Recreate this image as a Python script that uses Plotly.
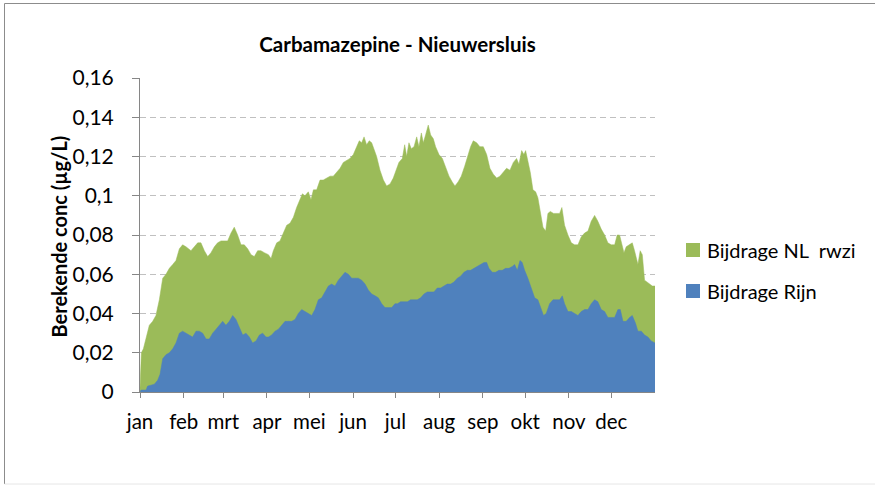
import pandas as pd
import plotly.graph_objects as go

# ---------------- data ----------------
# day-of-year (0 = 1 Jan) and top of the stacked area (Rijn + NL rwzi), µg/L
totaal_dag = [
    0, 1, 2.4, 4.3, 6.6, 9.0, 11.3, 13.7, 16.1, 18.4,
    20.8, 23.2, 25.5, 27.9, 30.2, 32.6, 36.1, 38.5, 40.9, 43.2,
    45.6, 48.0, 50.3, 52.7, 55.0, 57.4, 59.8, 62.1, 64.5, 66.8,
    69.2, 71.6, 73.9, 76.3, 78.7, 81.0, 83.4, 85.7, 88.1, 91.0,
    92.9, 94.5, 96.9, 99.2, 101.6, 104.0, 106.3, 108.7, 111.0, 113.4,
    115.1, 116.9, 119.3, 121.2, 122.9, 125.2, 127.6, 129.9, 132.3, 134.7,
    137.0, 139.4, 141.8, 144.1, 146.5, 148.8, 151.2, 153.6, 155.4, 157.1,
    158.8, 160.6, 162.5, 164.2, 166.1, 167.7, 170.1, 172.5, 174.8, 177.2,
    179.5, 181.9, 183.5, 185.9, 187.6, 189.0, 190.6, 192.3, 194.2, 196.1,
    197.7, 199.4, 200.8, 202.4, 204.3, 206.0, 207.9, 209.5, 211.9, 214.3,
    216.6, 219.0, 221.3, 223.2, 225.4, 227.7, 230.1, 232.4, 234.3, 236.2,
    238.6, 240.9, 243.3, 245.7, 248.0, 250.4, 252.8, 255.1, 257.5, 259.8,
    262.2, 264.6, 266.9, 268.6, 270.5, 272.1, 273.3, 274.9, 276.6, 278.5,
    280.4, 282.0, 283.7, 285.6, 287.5, 289.1, 290.8, 293.1, 295.5, 297.4,
    299.0, 300.9, 303.3, 305.7, 308.0, 310.4, 312.7, 315.1, 317.5, 319.8,
    322.2, 324.5, 326.9, 329.3, 331.6, 334.0, 336.4, 338.2, 339.9, 341.6,
    343.0, 344.6, 347.0, 348.9, 350.5, 352.9, 354.5, 356.0, 357.6, 359.3,
    361.2, 363.1, 365,
]
totaal = [
    0.002, 0.020, 0.022, 0.028, 0.034, 0.036, 0.039, 0.047, 0.058, 0.060,
    0.063, 0.065, 0.067, 0.073, 0.075, 0.074, 0.072, 0.074, 0.076, 0.076,
    0.072, 0.069, 0.071, 0.074, 0.076, 0.077, 0.077, 0.077, 0.081, 0.084,
    0.080, 0.075, 0.075, 0.073, 0.070, 0.069, 0.072, 0.072, 0.071, 0.070,
    0.068, 0.072, 0.076, 0.077, 0.081, 0.085, 0.086, 0.089, 0.094, 0.098,
    0.101, 0.100, 0.102, 0.098, 0.103, 0.103, 0.108, 0.108, 0.109, 0.110,
    0.110, 0.112, 0.114, 0.117, 0.118, 0.119, 0.121, 0.125, 0.128, 0.127,
    0.130, 0.126, 0.128, 0.127, 0.123, 0.120, 0.113, 0.108, 0.105, 0.106,
    0.109, 0.114, 0.117, 0.119, 0.126, 0.120, 0.127, 0.124, 0.125, 0.130,
    0.125, 0.132, 0.127, 0.131, 0.136, 0.131, 0.129, 0.125, 0.121, 0.119,
    0.115, 0.110, 0.107, 0.105, 0.107, 0.110, 0.115, 0.121, 0.125, 0.128,
    0.127, 0.125, 0.125, 0.121, 0.114, 0.111, 0.109, 0.110, 0.112, 0.114,
    0.113, 0.117, 0.119, 0.116, 0.123, 0.121, 0.123, 0.118, 0.112, 0.103,
    0.102, 0.099, 0.091, 0.084, 0.082, 0.091, 0.092, 0.091, 0.091, 0.091,
    0.094, 0.085, 0.080, 0.076, 0.075, 0.075, 0.079, 0.081, 0.082, 0.087,
    0.090, 0.087, 0.083, 0.080, 0.076, 0.075, 0.075, 0.080, 0.080, 0.075,
    0.071, 0.074, 0.075, 0.076, 0.072, 0.065, 0.072, 0.070, 0.057, 0.056,
    0.055, 0.054, 0.054,
]

# day-of-year and Bijdrage Rijn, µg/L
rijn_dag = [
    0, 0.7, 4.3, 5.4, 7.8, 10.2, 12.5, 14.2, 16.1, 18.4,
    20.8, 23.2, 25.5, 27.9, 30.2, 32.6, 35.0, 37.3, 39.7, 42.0,
    44.4, 46.8, 49.1, 51.5, 53.9, 56.2, 58.6, 60.9, 63.3, 65.7,
    68.0, 70.4, 72.8, 75.1, 77.5, 79.8, 82.2, 84.6, 86.9, 89.3,
    91.0, 93.3, 95.7, 98.1, 100.4, 102.8, 105.1, 107.5, 109.9, 112.2,
    114.6, 116.9, 119.3, 121.7, 124.0, 126.4, 128.8, 131.1, 133.5, 135.8,
    138.2, 140.6, 142.9, 145.3, 147.7, 150.0, 152.4, 154.7, 157.1, 159.5,
    161.8, 164.2, 166.6, 168.9, 171.3, 173.6, 176.0, 178.4, 180.7, 182.4,
    184.7, 187.1, 189.5, 191.8, 194.2, 196.5, 198.9, 201.3, 203.6, 206.0,
    208.3, 210.7, 213.1, 215.4, 217.8, 220.2, 222.5, 224.9, 227.2, 229.6,
    232.0, 234.3, 236.7, 239.1, 241.4, 243.8, 245.7, 247.3, 249.7, 252.0,
    254.4, 256.8, 259.1, 261.5, 263.9, 265.5, 267.4, 269.3, 270.9, 272.6,
    274.9, 277.3, 279.7, 282.0, 284.4, 286.0, 287.9, 290.3, 292.7, 295.0,
    297.4, 299.3, 300.9, 303.3, 305.7, 308.0, 310.4, 312.7, 315.1, 317.5,
    319.8, 322.2, 324.5, 326.9, 329.3, 331.6, 334.0, 336.4, 338.7, 340.4,
    342.3, 344.6, 347.0, 348.9, 351.2, 352.9, 355.3, 357.6, 360.0, 362.3,
    365,
]
rijn = [
    0.000, 0.001, 0.001, 0.003, 0.0035, 0.004, 0.006, 0.009, 0.017, 0.019,
    0.020, 0.022, 0.025, 0.030, 0.031, 0.030, 0.029, 0.028, 0.031, 0.031,
    0.030, 0.027, 0.027, 0.030, 0.032, 0.034, 0.036, 0.034, 0.036, 0.039,
    0.037, 0.033, 0.029, 0.030, 0.028, 0.025, 0.026, 0.029, 0.030, 0.028,
    0.028, 0.029, 0.031, 0.032, 0.034, 0.036, 0.036, 0.036, 0.037, 0.040,
    0.042, 0.041, 0.040, 0.039, 0.042, 0.047, 0.048, 0.051, 0.054, 0.055,
    0.054, 0.057, 0.059, 0.061, 0.060, 0.058, 0.058, 0.058, 0.057, 0.055,
    0.052, 0.050, 0.049, 0.048, 0.045, 0.043, 0.043, 0.043, 0.045, 0.045,
    0.046, 0.046, 0.046, 0.047, 0.047, 0.047, 0.048, 0.050, 0.051, 0.051,
    0.051, 0.053, 0.053, 0.054, 0.055, 0.055, 0.056, 0.058, 0.059, 0.061,
    0.062, 0.062, 0.063, 0.064, 0.065, 0.066, 0.066, 0.063, 0.061, 0.061,
    0.062, 0.062, 0.063, 0.063, 0.064, 0.065, 0.062, 0.067, 0.066, 0.062,
    0.058, 0.053, 0.048, 0.047, 0.042, 0.039, 0.040, 0.045, 0.047, 0.047,
    0.047, 0.049, 0.045, 0.041, 0.041, 0.040, 0.039, 0.041, 0.042, 0.042,
    0.045, 0.047, 0.046, 0.042, 0.041, 0.038, 0.038, 0.038, 0.042, 0.042,
    0.036, 0.036, 0.038, 0.039, 0.035, 0.031, 0.031, 0.029, 0.028, 0.026,
    0.025,
]

maanden = ["jan", "feb", "mrt", "apr", "mei", "jun",
           "jul", "aug", "sep", "okt", "nov", "dec"]
y_ticks = [0, 0.02, 0.04, 0.06, 0.08, 0.10, 0.12, 0.14, 0.16]
y_labels = ["0", "0,02", "0,04", "0,06", "0,08", "0,1", "0,12", "0,14", "0,16"]

titel = "Carbamazepine - Nieuwersluis"
y_titel = "Berekende conc (µg/L)"
naam_nl = "Bijdrage NL  rwzi"
naam_rijn = "Bijdrage Rijn"

# ---------------- figure ----------------
GREEN = "#9BBB59"
BLUE = "#4F81BD"
AXIS = "#868686"
FONT = "Lato"

W, H = 875, 485
ML, MR, MT, MB = 140, 220, 78, 93
PW, PH = W - ML - MR, H - MT - MB


def px(xp):
    return (xp - ML) / PW


def py(yp):
    return (H - MB - yp) / PH


start = pd.Timestamp("2010-01-01")
x_tot = start + pd.to_timedelta(totaal_dag, unit="D")
x_rijn = start + pd.to_timedelta(rijn_dag, unit="D")
maand_starts = pd.date_range("2010-01-01", periods=12, freq="MS")

fig = go.Figure()
fig.add_trace(go.Scatter(
    x=x_tot, y=totaal, name=naam_nl, mode="lines", fill="tozeroy",
    fillcolor=GREEN, line=dict(color=GREEN, width=0.5), showlegend=False,
    hoverinfo="skip"))
fig.add_trace(go.Scatter(
    x=x_rijn, y=rijn, name=naam_rijn, mode="lines", fill="tozeroy",
    fillcolor=BLUE, line=dict(color=BLUE, width=0.5), showlegend=False,
    hoverinfo="skip"))

fig.update_layout(
    width=W, height=H,
    margin=dict(l=ML, r=MR, t=MT, b=MB, pad=0),
    paper_bgcolor="white", plot_bgcolor="white",
    font=dict(family=FONT, size=20, color="black"),
    title=dict(text="<b>" + titel + "</b>", x=0.5, xref="paper", xanchor="center",
               y=1 - 45 / H, yref="container", yanchor="middle",
               font=dict(family=FONT, size=20.5, color="black")),
    showlegend=False,
)
fig.update_xaxes(
    type="date", range=[start, pd.Timestamp("2011-01-01")],
    tickvals=maand_starts, ticktext=maanden,
    ticks="outside", ticklen=5, tickcolor=AXIS, tickwidth=1,
    showline=True, linecolor=AXIS, linewidth=1,
    showgrid=False, zeroline=False, ticklabelstandoff=6,
    tickfont=dict(family=FONT, size=20.5, color="black"),
)
fig.update_yaxes(
    range=[0, 0.16], tickvals=y_ticks, ticktext=y_labels,
    ticks="outside", ticklen=7, tickcolor=AXIS, tickwidth=1,
    showline=True, linecolor=AXIS, linewidth=1,
    showgrid=True, gridcolor="#C0C0C0", gridwidth=1, griddash="6px,4px",
    zeroline=False, ticklabelstandoff=14,
    tickfont=dict(family=FONT, size=21, color="black"),
)

# y-axis title
fig.add_annotation(text="<b>" + y_titel + "</b>", textangle=-90,
                   x=px(58.5), y=py(237), xref="paper", yref="paper",
                   xanchor="center", yanchor="middle", showarrow=False,
                   font=dict(family=FONT, size=20, color="black"))

# legend (manual)
for name, color, yc in [(naam_nl, GREEN, 250), (naam_rijn, BLUE, 291)]:
    fig.add_shape(type="rect", xref="paper", yref="paper",
                  x0=px(686), x1=px(700), y0=py(yc + 7), y1=py(yc - 7),
                  fillcolor=color, line=dict(width=0))
    fig.add_annotation(text=name, x=px(705), y=py(yc), xref="paper", yref="paper",
                       xanchor="left", yanchor="middle", showarrow=False,
                       font=dict(family=FONT, size=20, color="black"))

# outer chart border
fig.add_shape(type="line", xref="paper", yref="paper",
              x0=px(4.5), x1=px(4.5), y0=py(484), y1=py(3.5),
              line=dict(color="#8C8C8C", width=1))
fig.add_shape(type="line", xref="paper", yref="paper",
              x0=px(4.5), x1=px(880), y0=py(3.5), y1=py(3.5),
              line=dict(color="#8C8C8C", width=1))
fig.add_shape(type="line", xref="paper", yref="paper",
              x0=px(4.5), x1=px(880), y0=py(484), y1=py(484),
              line=dict(color="#E6E6E6", width=1))

fig.write_html("out.html", config={"displayModeBar": False},
               post_script="document.body.style.margin='0';document.body.style.overflow='hidden';")
